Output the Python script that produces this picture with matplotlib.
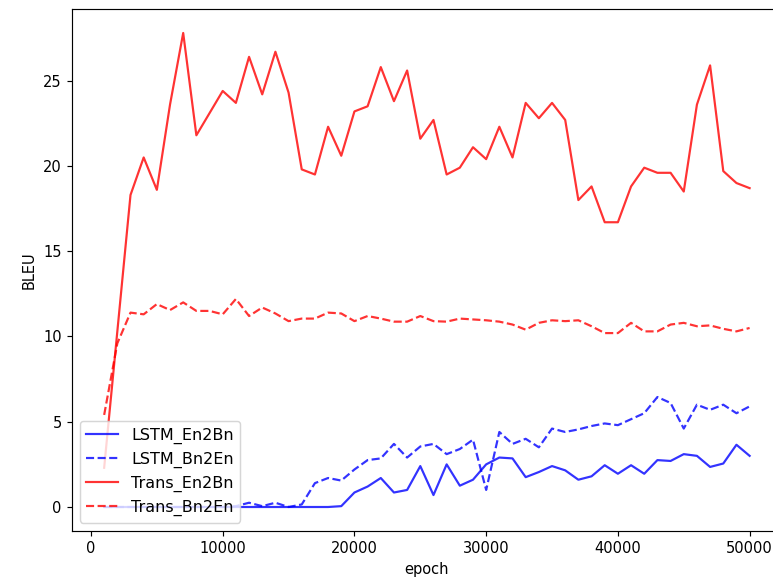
import numpy as np
import matplotlib
matplotlib.use('Agg')
import matplotlib.pyplot as plt

# evaluation every 1000 steps
epochs = np.arange(1000, 50001, 1000)

lstm_en2bn = [0.0, 0.0, 0.0, 0.0, 0.0, 0.0, 0.0, 0.0, 0.0, 0.0,
              0.0, 0.0, 0.0, 0.0, 0.0, 0.0, 0.0, 0.0, 0.05, 0.85,
              1.2, 1.7, 0.85, 1.0, 2.4, 0.7, 2.5, 1.25, 1.6, 2.5,
              2.9, 2.85, 1.75, 2.05, 2.4, 2.15, 1.6, 1.8, 2.45, 1.95,
              2.45, 1.95, 2.75, 2.7, 3.1, 3.0, 2.35, 2.55, 3.65, 3.0]

lstm_bn2en = [0.0, 0.0, 0.0, 0.0, 0.0, 0.0, 0.0, 0.0, 0.0, 0.0,
              0.05, 0.25, 0.05, 0.25, 0.0, 0.15, 1.4, 1.7, 1.55, 2.2,
              2.75, 2.85, 3.7, 2.9, 3.55, 3.7, 3.1, 3.4, 3.95, 1.0,
              4.4, 3.7, 4.0, 3.5, 4.6, 4.4, 4.55, 4.75, 4.9, 4.8,
              5.15, 5.5, 6.45, 6.1, 4.6, 6.0, 5.7, 6.0, 5.5, 5.9]

trans_en2bn = [2.3, 10.3, 18.3, 20.5, 18.6, 23.6, 27.8, 21.8, 23.1, 24.4,
               23.7, 26.4, 24.2, 26.7, 24.3, 19.8, 19.5, 22.3, 20.6, 23.2,
               23.5, 25.8, 23.8, 25.6, 21.6, 22.7, 19.5, 19.9, 21.1, 20.4,
               22.3, 20.5, 23.7, 22.8, 23.7, 22.7, 18.0, 18.8, 16.7, 16.7,
               18.8, 19.9, 19.6, 19.6, 18.5, 23.6, 25.9, 19.7, 19.0, 18.7]

trans_bn2en = [5.4, 9.6, 11.4, 11.3, 11.9, 11.55, 12.0, 11.5, 11.5, 11.3,
               12.2, 11.2, 11.7, 11.35, 10.9, 11.05, 11.05, 11.4, 11.35, 10.9,
               11.2, 11.05, 10.87, 10.87, 11.2, 10.9, 10.87, 11.05, 11.0, 10.95,
               10.87, 10.7, 10.4, 10.8, 10.95, 10.9, 10.95, 10.6, 10.2, 10.2,
               10.8, 10.3, 10.3, 10.7, 10.8, 10.6, 10.65, 10.45, 10.3, 10.5]

fig = plt.figure(figsize=(773 / 105, 580 / 105), dpi=105)
# right edge of the axes falls just outside the picture, as in the cropped original
ax = fig.add_axes([0.093, 0.085, 0.9185, 0.899])

ax.plot(epochs, lstm_en2bn, color='blue', alpha=0.8, label='LSTM_En2Bn')
ax.plot(epochs, lstm_bn2en, color='blue', alpha=0.8, linestyle='--', label='LSTM_Bn2En')
ax.plot(epochs, trans_en2bn, color='red', alpha=0.8, label='Trans_En2Bn')
ax.plot(epochs, trans_bn2en, color='red', alpha=0.8, linestyle='--', label='Trans_Bn2En')

ax.set_xlabel('epoch')
ax.set_ylabel('BLEU')
ax.legend(loc='lower left', fontsize=11)

fig.savefig('out.png')
